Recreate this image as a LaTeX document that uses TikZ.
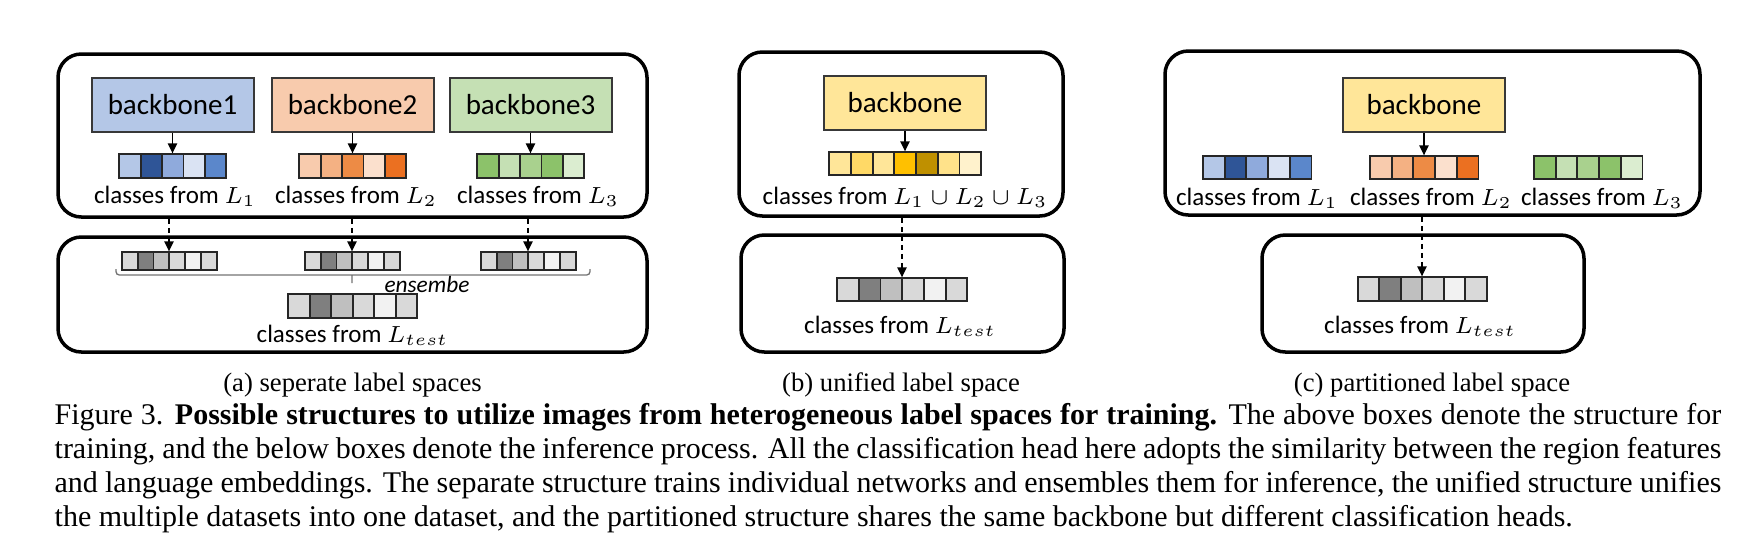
\documentclass[tikz,border=0pt]{standalone}
\usepackage{fontspec}
\setmainfont{Liberation Serif}
\newfontfamily\diagfont{Carlito}
\usetikzlibrary{arrows.meta,fit}

% one pixel of the layout
\newcommand{\pxu}{0.3pt}

\definecolor{bbBlue}{HTML}{B4C7E7}
\definecolor{bbOrange}{HTML}{F8CBAD}
\definecolor{bbGreen}{HTML}{C5E0B4}
\definecolor{bbYellow}{HTML}{FFE699}
\definecolor{bl1}{HTML}{B4C7E7}\definecolor{bl2}{HTML}{2F5597}\definecolor{bl3}{HTML}{8FAADC}
\definecolor{bl4}{HTML}{DAE3F3}\definecolor{bl5}{HTML}{5B87CB}
\definecolor{or1}{HTML}{F8CBAD}\definecolor{or2}{HTML}{F4B183}\definecolor{or3}{HTML}{ED8B45}
\definecolor{or4}{HTML}{FBE0CD}\definecolor{or5}{HTML}{EB7021}
\definecolor{gr1}{HTML}{8CC26A}\definecolor{gr2}{HTML}{C5E0B4}\definecolor{gr3}{HTML}{A9D18E}
\definecolor{gr4}{HTML}{8CC26A}\definecolor{gr5}{HTML}{DBEDD0}
\definecolor{ye1}{HTML}{FFE699}\definecolor{ye2}{HTML}{FFD966}\definecolor{ye3}{HTML}{FFE699}
\definecolor{ye4}{HTML}{FFC000}\definecolor{ye5}{HTML}{BF9000}\definecolor{ye6}{HTML}{FFE28A}
\definecolor{ye7}{HTML}{FFF2CC}
\definecolor{gy1}{HTML}{D9D9D9}\definecolor{gy2}{HTML}{7F7F7F}\definecolor{gy3}{HTML}{BFBFBF}
\definecolor{gy4}{HTML}{D9D9D9}\definecolor{gy5}{HTML}{F2F2F2}\definecolor{gy6}{HTML}{D9D9D9}

\tikzset{
  frame/.style={draw, line width=1.05pt, rounded corners=7pt, inner sep=0pt},
  backbone/.style={draw=black!78, line width=0.6pt, minimum width=162*\pxu,
    minimum height=54*\pxu, font=\diagfont\fontsize{8.7}{10}\selectfont},
  cell/.style={draw=black!85, line width=0.55pt, anchor=west},
  clabel/.style={font=\diagfont\fontsize{7.5}{9}\selectfont, anchor=base},
  arr/.style={-{Triangle[length=3pt,width=2.8pt]}, line width=0.45pt},
  darr/.style={arr, dash pattern=on 1.5pt off 1.2pt},
  brace/.style={draw=black!55, line width=0.4pt, rounded corners=1pt},
  subcap/.style={font=\fontsize{8}{9.6}\selectfont, anchor=base},
  capline/.style={font=\fontsize{9}{10.2}\selectfont, anchor=base west},
}

% name, centre, cells, cell width, cell height, colours
\newcommand{\cellbar}[6]{%
  \node[minimum width=#3*#4*\pxu, minimum height=#5*\pxu] (#1) at #2 {};
  \foreach \col [count=\i] in {#6}
    \node[cell, fill=\col, minimum width=#4*\pxu, minimum height=#5*\pxu]
      (#1-\i) at ([xshift={(\i-1)*#4*\pxu}]#1.west) {};
}
\newcommand{\fullline}[1]{\hbox to 500pt{#1}}

\begin{document}
\begin{tikzpicture}[x=0.3pt, y=-0.3pt, every node/.style={inner sep=0pt}]
  \useasboundingbox (0,0) rectangle (1749,557);

  % (a) separate label spaces
  \node[frame, fit={(58,54) (647,217)}] (topA) {};
  \node[frame, fit={(58,237) (647,352)}] (botA) {};
  \node[backbone, fill=bbBlue] (bbA1) at (172.5,104.5) {backbone1};
  \node[backbone, fill=bbOrange] (bbA2) at (352.5,104.5) {backbone2};
  \node[backbone, fill=bbGreen] (bbA3) at (530.5,104.5) {backbone3};
  \cellbar{barA1}{(172.5,166)}{5}{21.4}{24}{bl1,bl2,bl3,bl4,bl5}
  \cellbar{barA2}{(352.5,166)}{5}{21.4}{24}{or1,or2,or3,or4,or5}
  \cellbar{barA3}{(530.5,166)}{5}{21.4}{24}{gr1,gr2,gr3,gr4,gr5}
  \draw[arr] (bbA1) -- (barA1);
  \draw[arr] (bbA2) -- (barA2);
  \draw[arr] (bbA3) -- (barA3);
  \node[clabel] (labA1) at (175,203) {classes from $L_1$};
  \node[clabel] (labA2) at (356,203) {classes from $L_2$};
  \node[clabel] (labA3) at (538,203) {classes from $L_3$};

  \cellbar{gA1}{(169,261)}{6}{15.8}{18}{gy1,gy2,gy3,gy4,gy5,gy6}
  \cellbar{gA2}{(352,261)}{6}{15.8}{18}{gy1,gy2,gy3,gy4,gy5,gy6}
  \cellbar{gA3}{(528,261)}{6}{15.8}{18}{gy1,gy2,gy3,gy4,gy5,gy6}
  \draw[darr] (topA.south -| gA1) -- (gA1);
  \draw[darr] (topA.south -| gA2) -- (gA2);
  \draw[darr] (topA.south -| gA3) -- (gA3);
  \draw[brace] (116,269) -- (116,275) -- (590,275) -- (590,269) (352,275) -- (352,283);
  \node[font=\diagfont\itshape\fontsize{7}{8}\selectfont, anchor=base] (ensA) at (427,292) {ensembe};
  \cellbar{testA}{(352.5,306)}{6}{21.5}{24}{gy1,gy2,gy3,gy4,gy5,gy6}
  \node[clabel] (labAt) at (352.5,342) {classes from $L_{test}$};

  % (b) unified label space
  \node[frame, fit={(739,52) (1063,216)}] (topB) {};
  \node[frame, fit={(741,235) (1064,352)}] (botB) {};
  \node[backbone, fill=bbYellow] (bbB) at (905,103) {backbone};
  \cellbar{barB}{(905,163.5)}{7}{21.7}{23}{ye1,ye2,ye3,ye4,ye5,ye6,ye7}
  \draw[arr] (bbB) -- (barB);
  \node[clabel] (labB) at (905,204) {classes from $L_1\cup L_2\cup L_3$};
  \cellbar{testB}{(902,289.5)}{6}{21.7}{23}{gy1,gy2,gy3,gy4,gy5,gy6}
  \draw[darr] (topB.south -| testB) -- (testB);
  \node[clabel] (labBt) at (900,333) {classes from $L_{test}$};

  % (c) partitioned label space
  \node[frame, fit={(1165,51) (1700,215)}] (topC) {};
  \node[frame, fit={(1262,235) (1584,352)}] (botC) {};
  \node[backbone, fill=bbYellow] (bbC) at (1424,105) {backbone};
  \cellbar{barC1}{(1257,167.5)}{5}{21.7}{23}{bl1,bl2,bl3,bl4,bl5}
  \cellbar{barC2}{(1424,167.5)}{5}{21.7}{23}{or1,or2,or3,or4,or5}
  \cellbar{barC3}{(1588,167.5)}{5}{21.7}{23}{gr1,gr2,gr3,gr4,gr5}
  \draw[arr] (bbC) -- (barC2);
  \node[clabel] (labC1) at (1257,205) {classes from $L_1$};
  \node[clabel] (labC2) at (1431,205) {classes from $L_2$};
  \node[clabel] (labC3) at (1602,205) {classes from $L_3$};
  \cellbar{testC}{(1422,289)}{6}{21.5}{24}{gy1,gy2,gy3,gy4,gy5,gy6}
  \draw[darr] (topC.south -| testC) -- (testC);
  \node[clabel] (labCt) at (1420,333) {classes from $L_{test}$};

  % sub-captions and caption
  \node[subcap] (subA) at (352.5,391) {(a) seperate label spaces};
  \node[subcap] (subB) at (901,391) {(b) unified label space};
  \node[subcap] (subC) at (1432,391) {(c) partitioned label space};
  \node[capline] (cap1) at (54,424) {\fullline{Figure 3. \textbf{Possible structures to utilize images from heterogeneous label spaces for training.} The above boxes denote the structure for}};
  \node[capline] (cap2) at (54,458) {\fullline{training, and the below boxes denote the inference process. All the classification head here adopts the similarity between the region features}};
  \node[capline] (cap3) at (54,492) {\fullline{and language embeddings. The separate structure trains individual networks and ensembles them for inference, the unified structure unifies}};
  \node[capline] (cap4) at (54,526) {the multiple datasets into one dataset, and the partitioned structure shares the same backbone but different classification heads.};
\end{tikzpicture}
\end{document}
